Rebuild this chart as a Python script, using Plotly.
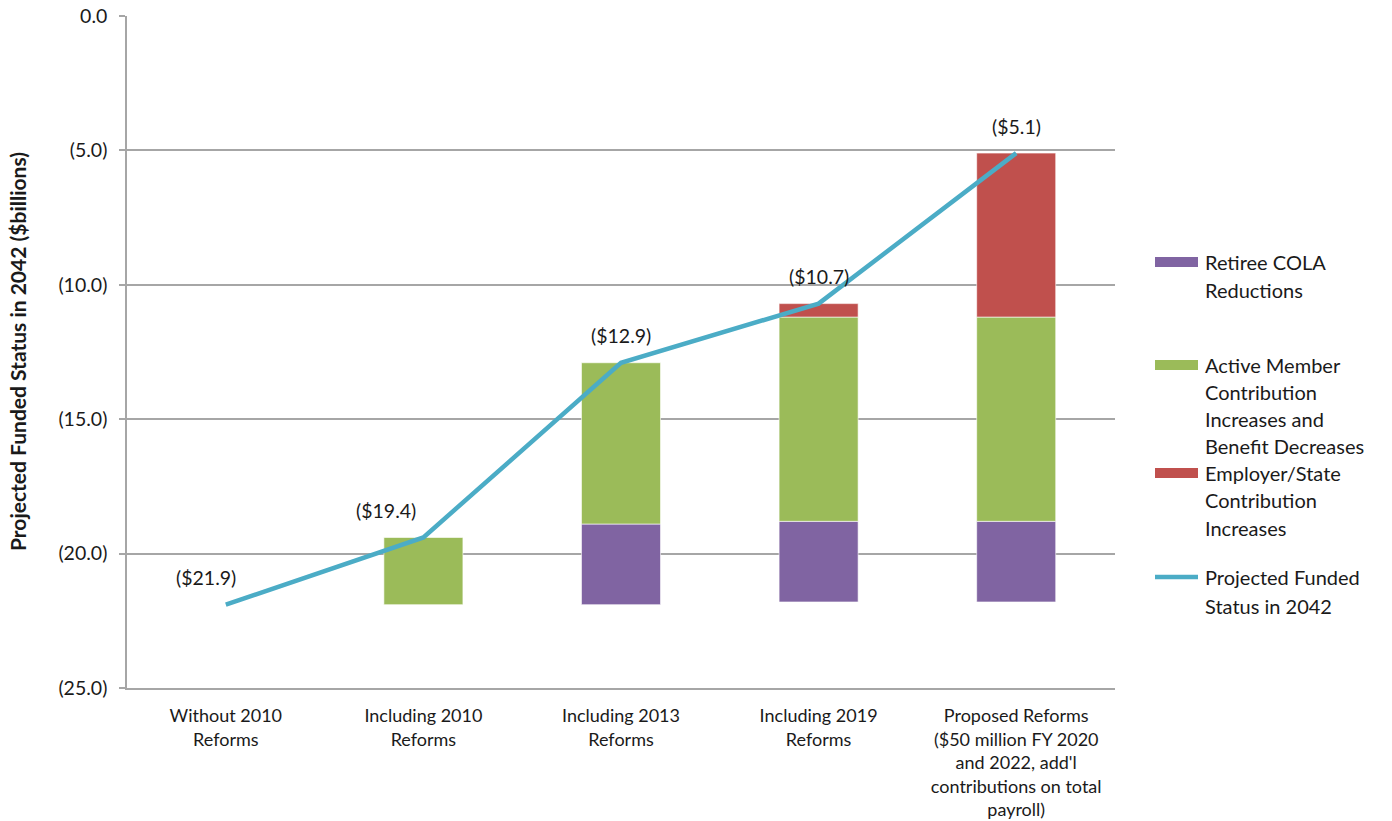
import plotly.graph_objects as go

# Scenario categories (x axis)
categories = [
    "Without 2010<br>Reforms",
    "Including 2010<br>Reforms",
    "Including 2013<br>Reforms",
    "Including 2019<br>Reforms",
    "Proposed Reforms<br>($50 million FY 2020<br>and 2022, add'l<br>contributions on total<br>payroll)",
]

# Projected funded status in 2042 ($ billions)
funded_status = [-21.9, -19.4, -12.9, -10.7, -5.1]
status_labels = ["($21.9)", "($19.4)", "($12.9)", "($10.7)", "($5.1)"]

# Starting point of each stacked bar ($ billions)
bar_base = [None, -21.9, -21.9, -21.8, -21.8]

# Improvement contributed by each reform component ($ billions)
retiree_cola = [0.0, 0.0, 3.0, 3.0, 3.0]
active_member = [0.0, 2.5, 6.0, 7.6, 7.6]
employer_state = [0.0, 0.0, 0.0, 0.5, 6.1]

# Y axis ticks
y_tickvals = [0, -5, -10, -15, -20, -25]
y_ticktext = ["0.0", "(5.0)", "(10.0)", "(15.0)", "(20.0)", "(25.0)"]

FONT = "Lato"
TEXT_COLOR = "#1a1a1a"
GRID = "#a6a6a6"
C_PURPLE = "#8064a2"
C_GREEN = "#9bbb59"
C_RED = "#c0504d"
C_LINE = "#4bacc6"

fig = go.Figure()

# Stack the components on top of each other starting from the base
series = [
    ("Retiree COLA Reductions", retiree_cola, C_PURPLE),
    ("Active Member Contribution Increases and Benefit Decreases", active_member, C_GREEN),
    ("Employer/State Contribution Increases", employer_state, C_RED),
]
running = [b if b is not None else 0.0 for b in bar_base]
for name, vals, color in series:
    xs, bases, heights = [], [], []
    for i, v in enumerate(vals):
        if bar_base[i] is not None and v > 0:
            xs.append(categories[i])
            bases.append(running[i])
            heights.append(v)
        running[i] = running[i] + v
    fig.add_trace(go.Bar(
        x=xs, y=heights, base=bases, name=name,
        marker=dict(color=color, line=dict(color="rgba(255,255,255,0.6)", width=1)),
        width=0.4, showlegend=False, hoverinfo="skip",
    ))

fig.add_trace(go.Scatter(
    x=categories, y=funded_status, mode="lines",
    line=dict(color=C_LINE, width=4.5), name="Projected Funded Status in 2042",
    showlegend=False, hoverinfo="skip",
))

# Value labels above the line
label_xshift = [-20, -37, 0, 0, 0]
for cat, val, txt, dx in zip(categories, funded_status, status_labels, label_xshift):
    fig.add_annotation(
        x=cat, y=val, text=txt, showarrow=False, xshift=dx, yshift=27,
        font=dict(family=FONT, size=19.5, color=TEXT_COLOR),
    )

# Plot area in pixels
L, R, T, B = 127, 1115, 16, 688
W, H = R - L, B - T


def px(xp):
    return (xp - L) / W


def py(yp):
    return (B - yp) / H


# Custom legend: swatch + wrapped label lines
legend_items = [
    ("bar", C_PURPLE, 262, 28.0, ["Retiree COLA", "Reductions"]),
    ("bar", C_GREEN, 365, 27.0, ["Active Member", "Contribution", "Increases and", "Benefit Decreases"]),
    ("bar", C_RED, 473, 27.5, ["Employer/State", "Contribution", "Increases"]),
    ("line", C_LINE, 577, 28.5, ["Projected Funded", "Status in 2042"]),
]
for kind, color, y0, step, lines in legend_items:
    if kind == "bar":
        fig.add_shape(type="rect", xref="paper", yref="paper",
                      x0=px(1155), x1=px(1198), y0=py(y0 + 5), y1=py(y0 - 5),
                      fillcolor=color, line=dict(width=0))
    else:
        fig.add_shape(type="line", xref="paper", yref="paper",
                      x0=px(1155), x1=px(1198), y0=py(y0), y1=py(y0),
                      line=dict(color=color, width=4.5))
    for k, ln in enumerate(lines):
        fig.add_annotation(
            xref="paper", yref="paper", x=px(1203), y=py(y0 + k * step),
            xanchor="left", yanchor="middle", text=ln, showarrow=False,
            font=dict(family=FONT, size=20, color=TEXT_COLOR),
        )

# Rotated y axis title
fig.add_annotation(
    xref="paper", yref="paper", x=px(17), y=py(352), textangle=-90,
    text="<b>Projected Funded Status in 2042 ($billions)</b>", showarrow=False,
    xanchor="center", yanchor="middle",
    font=dict(family=FONT, size=21, color=TEXT_COLOR),
)

fig.update_layout(
    width=1392, height=821,
    margin=dict(l=L, r=1392 - R, t=T, b=821 - B),
    paper_bgcolor="white", plot_bgcolor="white",
    barmode="overlay",
    font=dict(family=FONT, size=18, color=TEXT_COLOR),
    xaxis=dict(
        categoryorder="array", categoryarray=categories, range=[-0.5, 4.5],
        showgrid=False, showline=True, linecolor=GRID, linewidth=1.5,
        ticks="", ticklabelstandoff=11, automargin=False,
        tickfont=dict(family=FONT, size=18, color=TEXT_COLOR),
        fixedrange=True,
    ),
    yaxis=dict(
        range=[-25, 0], tickvals=y_tickvals, ticktext=y_ticktext,
        showgrid=True, gridcolor=GRID, gridwidth=1.5,
        showline=True, linecolor=GRID, linewidth=1.5,
        ticks="outside", ticklen=6, tickcolor=GRID, tickwidth=1.5,
        ticklabelstandoff=8, automargin=False,
        tickfont=dict(family=FONT, size=19.5, color=TEXT_COLOR),
        zeroline=False, fixedrange=True,
    ),
)

fig.write_html("out.html")
